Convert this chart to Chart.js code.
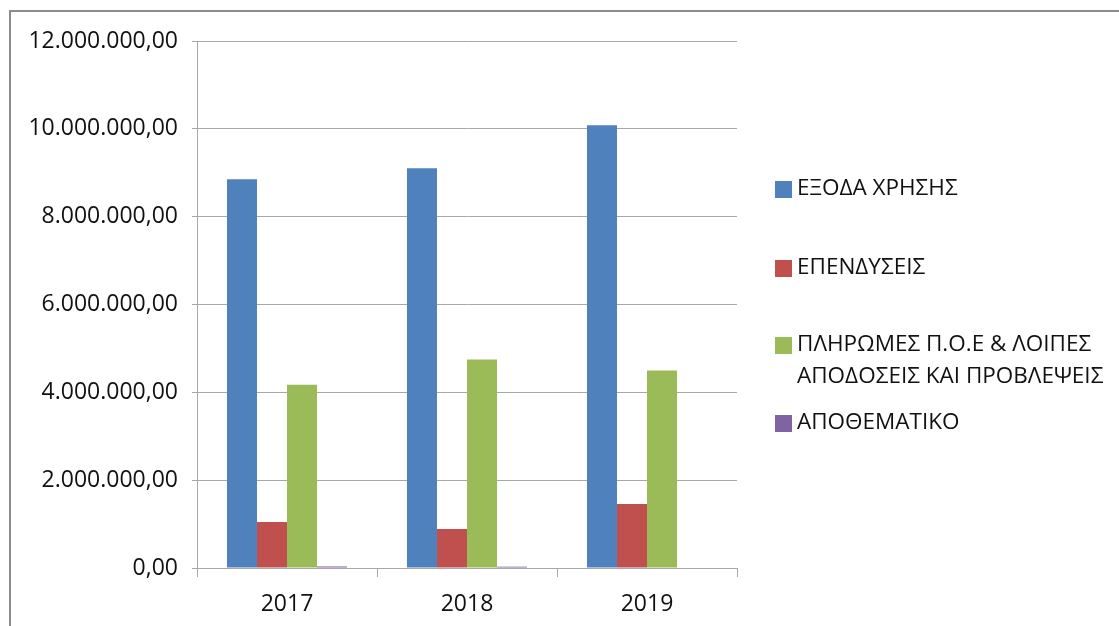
<!DOCTYPE html>
<html>
<head>
<meta charset="utf-8">
<script src="https://cdn.jsdelivr.net/npm/chart.js@4/dist/chart.umd.min.js"></script>
<style>
  html, body { margin: 0; padding: 0; background: #fff; }
  #frame {
    position: absolute; left: 9px; top: 10px; right: 0; bottom: 0;
    border-left: 2px solid #8c8c8c; border-top: 2px solid #8c8c8c;
  }
  #wrap { position: absolute; left: 0; top: 0; width: 1119px; height: 626px; }
</style>
</head>
<body>
<div id="frame"></div>
<div id="wrap"><canvas id="chart" width="1119" height="626"></canvas></div>
<script>
const years = ["2017", "2018", "2019"];
const seriesNames = [
  "ΕΞΟΔΑ ΧΡΗΣΗΣ",
  "ΕΠΕΝΔΥΣΕΙΣ",
  "ΠΛΗΡΩΜΕΣ Π.Ο.Ε & ΛΟΙΠΕΣ\nΑΠΟΔΟΣΕΙΣ ΚΑΙ ΠΡΟΒΛΕΨΕΙΣ",
  "ΑΠΟΘΕΜΑΤΙΚΟ",
];
const expenses = [8850000, 9100000, 10080000];
const investments = [1050000, 890000, 1460000];
const payments = [4170000, 4750000, 4500000];
const reserve = [35000, 30000, 0];
const yTicks = [0, 2000000, 4000000, 6000000, 8000000, 10000000, 12000000];

const colors = ["#4F81BD", "#C0504D", "#9BBB59", "#8064A2"];
const gridColor = "#a8a8a8";
const textColor = "#111";
const font = "'Open Sans', 'DejaVu Sans', sans-serif";

function formatGreek(v) {
  const whole = Math.round(v).toString().replace(/\B(?=(\d{3})+(?!\d))/g, ".");
  return whole + ",00";
}

// legend drawn by hand, like the Excel one (wide gaps, 2-line label)
const legendY = [189, 268, 345, 423];
const sideLegend = {
  id: "sideLegend",
  afterDraw(chart) {
    const c = chart.ctx;
    c.save();
    c.font = "22.5px " + font;
    c.textBaseline = "middle";
    c.textAlign = "left";
    chart.data.datasets.forEach((ds, i) => {
      const y = legendY[i];
      c.fillStyle = ds.backgroundColor;
      c.fillRect(775, y - 8, 17, 17);
      c.fillStyle = textColor;
      ds.label.split("\n").forEach((line, j) => {
        c.fillText(line, 797, y + j * 32);
      });
    });
    c.restore();
  },
};

const datasets = [expenses, investments, payments, reserve].map((data, i) => ({
  label: seriesNames[i],
  data: data,
  backgroundColor: colors[i],
  borderWidth: 0,
  categoryPercentage: 0.667,
  barPercentage: 1,
}));

new Chart(document.getElementById("chart"), {
  type: "bar",
  data: { labels: years, datasets: datasets },
  plugins: [sideLegend],
  options: {
    responsive: false,
    animation: false,
    layout: { padding: { left: 0, right: 382, top: 41, bottom: 0 } },
    plugins: {
      legend: { display: false },
      tooltip: { enabled: false },
    },
    scales: {
      x: {
        afterFit: (s) => { s.height = 58; },
        grid: {
          offset: true,
          drawOnChartArea: false,
          drawTicks: true,
          tickLength: 9,
          color: gridColor,
        },
        border: { display: true, color: gridColor },
        ticks: {
          color: textColor,
          padding: 14,
          font: { family: font, size: 23 },
        },
      },
      y: {
        min: 0,
        max: 12000000,
        afterFit: (s) => { s.width = 197; },
        afterBuildTicks: (s) => { s.ticks = yTicks.map((v) => ({ value: v })); },
        grid: { color: gridColor, tickLength: 5 },
        border: { display: true, color: gridColor },
        ticks: {
          color: textColor,
          padding: 14,
          font: { family: font, size: 23 },
          callback: (v) => formatGreek(v),
        },
      },
    },
  },
});
</script>
</body>
</html>
